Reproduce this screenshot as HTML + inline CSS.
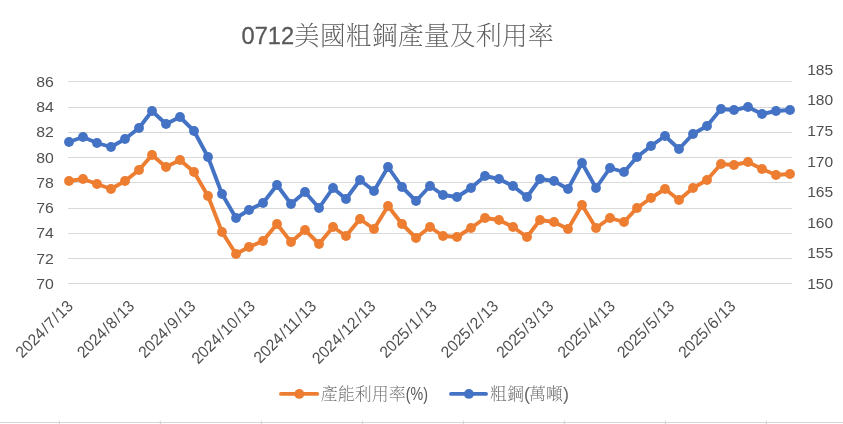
<!DOCTYPE html>
<html lang="zh-Hant">
<head>
<meta charset="utf-8">
<title>0712美國粗鋼產量及利用率</title>
<style>
html,body{margin:0;padding:0;background:#fff;}
body{width:843px;height:424px;overflow:hidden;}
svg{display:block;}
</style>
</head>
<body>
<svg width="843" height="424" viewBox="0 0 843 424">
<rect x="0" y="0" width="843" height="424" fill="#fff"/>
<g stroke="#D6D6D6" stroke-width="1.2">
<line x1="0" y1="422.5" x2="843" y2="422.5"/>
<line x1="59.4" y1="420.8" x2="59.4" y2="424"/>
<line x1="160.4" y1="420.8" x2="160.4" y2="424"/>
<line x1="261.4" y1="420.8" x2="261.4" y2="424"/>
<line x1="362.4" y1="420.8" x2="362.4" y2="424"/>
<line x1="463.4" y1="420.8" x2="463.4" y2="424"/>
<line x1="564.4" y1="420.8" x2="564.4" y2="424"/>
<line x1="665.4" y1="420.8" x2="665.4" y2="424"/>
<line x1="766.4" y1="420.8" x2="766.4" y2="424"/>
</g>
<g stroke="#D9D9D9" stroke-width="1">
<line x1="68" y1="283.50" x2="792" y2="283.50"/>
<line x1="68" y1="258.50" x2="792" y2="258.50"/>
<line x1="68" y1="233.50" x2="792" y2="233.50"/>
<line x1="68" y1="208.50" x2="792" y2="208.50"/>
<line x1="68" y1="182.50" x2="792" y2="182.50"/>
<line x1="68" y1="157.50" x2="792" y2="157.50"/>
<line x1="68" y1="132.50" x2="792" y2="132.50"/>
<line x1="68" y1="107.50" x2="792" y2="107.50"/>
<line x1="68" y1="81.50" x2="792" y2="81.50"/>
</g>
<g font-family="'Liberation Sans', sans-serif" font-size="15.5" fill="#505050">
<text x="36.2" y="288.85" font-size="15.4" textLength="17.6" lengthAdjust="spacingAndGlyphs">70</text>
<text x="36.2" y="263.61" font-size="15.4" textLength="17.6" lengthAdjust="spacingAndGlyphs">72</text>
<text x="36.2" y="238.37" font-size="15.4" textLength="17.6" lengthAdjust="spacingAndGlyphs">74</text>
<text x="36.2" y="213.13" font-size="15.4" textLength="17.6" lengthAdjust="spacingAndGlyphs">76</text>
<text x="36.2" y="187.89" font-size="15.4" textLength="17.6" lengthAdjust="spacingAndGlyphs">78</text>
<text x="36.2" y="162.65" font-size="15.4" textLength="17.6" lengthAdjust="spacingAndGlyphs">80</text>
<text x="36.2" y="137.41" font-size="15.4" textLength="17.6" lengthAdjust="spacingAndGlyphs">82</text>
<text x="36.2" y="112.17" font-size="15.4" textLength="17.6" lengthAdjust="spacingAndGlyphs">84</text>
<text x="36.2" y="86.93" font-size="15.4" textLength="17.6" lengthAdjust="spacingAndGlyphs">86</text>
<text x="807.2" y="288.90" font-size="15.4" textLength="26.0" lengthAdjust="spacingAndGlyphs">150</text>
<text x="807.2" y="258.33" font-size="15.4" textLength="26.0" lengthAdjust="spacingAndGlyphs">155</text>
<text x="807.2" y="227.76" font-size="15.4" textLength="26.0" lengthAdjust="spacingAndGlyphs">160</text>
<text x="807.2" y="197.19" font-size="15.4" textLength="26.0" lengthAdjust="spacingAndGlyphs">165</text>
<text x="807.2" y="166.62" font-size="15.4" textLength="26.0" lengthAdjust="spacingAndGlyphs">170</text>
<text x="807.2" y="136.05" font-size="15.4" textLength="26.0" lengthAdjust="spacingAndGlyphs">175</text>
<text x="807.2" y="105.48" font-size="15.4" textLength="26.0" lengthAdjust="spacingAndGlyphs">180</text>
<text x="807.2" y="74.91" font-size="15.4" textLength="26.0" lengthAdjust="spacingAndGlyphs">185</text>
<text transform="translate(74.00,307.1) rotate(-45) scale(0.95,1)" font-size="16.3" text-anchor="end" dx="0 0 0 0 1.1 1.1 1.1 1.1 0">2024/7/13</text>
<text transform="translate(135.32,307.1) rotate(-45) scale(0.95,1)" font-size="16.3" text-anchor="end" dx="0 0 0 0 1.1 1.1 1.1 1.1 0">2024/8/13</text>
<text transform="translate(196.64,307.1) rotate(-45) scale(0.95,1)" font-size="16.3" text-anchor="end" dx="0 0 0 0 1.1 1.1 1.1 1.1 0">2024/9/13</text>
<text transform="translate(255.98,307.1) rotate(-45) scale(0.95,1)" font-size="16.3" text-anchor="end" dx="0 0 0 0 1.1 1.1 0 1.1 1.1 0">2024/10/13</text>
<text transform="translate(317.29,307.1) rotate(-45) scale(0.95,1)" font-size="16.3" text-anchor="end" dx="0 0 0 0 1.1 1.1 0 1.1 1.1 0">2024/11/13</text>
<text transform="translate(376.63,307.1) rotate(-45) scale(0.95,1)" font-size="16.3" text-anchor="end" dx="0 0 0 0 1.1 1.1 0 1.1 1.1 0">2024/12/13</text>
<text transform="translate(437.95,307.1) rotate(-45) scale(0.95,1)" font-size="16.3" text-anchor="end" dx="0 0 0 0 1.1 1.1 1.1 1.1 0">2025/1/13</text>
<text transform="translate(499.27,307.1) rotate(-45) scale(0.95,1)" font-size="16.3" text-anchor="end" dx="0 0 0 0 1.1 1.1 1.1 1.1 0">2025/2/13</text>
<text transform="translate(554.65,307.1) rotate(-45) scale(0.95,1)" font-size="16.3" text-anchor="end" dx="0 0 0 0 1.1 1.1 1.1 1.1 0">2025/3/13</text>
<text transform="translate(615.97,307.1) rotate(-45) scale(0.95,1)" font-size="16.3" text-anchor="end" dx="0 0 0 0 1.1 1.1 1.1 1.1 0">2025/4/13</text>
<text transform="translate(675.31,307.1) rotate(-45) scale(0.95,1)" font-size="16.3" text-anchor="end" dx="0 0 0 0 1.1 1.1 1.1 1.1 0">2025/5/13</text>
<text transform="translate(736.63,307.1) rotate(-45) scale(0.95,1)" font-size="16.3" text-anchor="end" dx="0 0 0 0 1.1 1.1 1.1 1.1 0">2025/6/13</text>
</g>
<polyline points="69.00,142.00 83.00,137.00 97.00,143.00 111.00,147.00 125.00,139.00 139.00,128.00 152.00,111.00 166.00,124.00 180.00,117.00 194.00,131.00 208.00,157.00 222.00,194.00 236.00,218.00 249.00,210.00 263.00,203.00 277.00,185.00 291.00,204.00 305.00,192.00 319.00,208.00 333.00,188.00 346.00,199.00 360.00,180.00 374.00,191.00 388.00,167.00 402.00,187.00 416.00,201.00 430.00,186.00 443.00,195.00 457.00,197.00 471.00,188.00 485.00,176.00 499.00,179.00 513.00,186.00 527.00,197.00 540.00,179.00 554.00,181.00 568.00,189.00 582.00,163.00 596.00,188.00 610.00,168.00 624.00,172.00 637.00,157.00 651.00,146.00 665.00,136.00 679.00,149.00 693.00,134.00 707.00,126.00 721.00,109.00 734.00,110.00 748.00,107.00 762.00,114.00 776.00,111.00 790.00,110.00" fill="none" stroke="#4472C4" stroke-width="3.9" stroke-linejoin="round" stroke-linecap="round"/>
<g fill="#4472C4">
<circle cx="69.00" cy="142.00" r="4.95"/>
<circle cx="83.00" cy="137.00" r="4.95"/>
<circle cx="97.00" cy="143.00" r="4.95"/>
<circle cx="111.00" cy="147.00" r="4.95"/>
<circle cx="125.00" cy="139.00" r="4.95"/>
<circle cx="139.00" cy="128.00" r="4.95"/>
<circle cx="152.00" cy="111.00" r="4.95"/>
<circle cx="166.00" cy="124.00" r="4.95"/>
<circle cx="180.00" cy="117.00" r="4.95"/>
<circle cx="194.00" cy="131.00" r="4.95"/>
<circle cx="208.00" cy="157.00" r="4.95"/>
<circle cx="222.00" cy="194.00" r="4.95"/>
<circle cx="236.00" cy="218.00" r="4.95"/>
<circle cx="249.00" cy="210.00" r="4.95"/>
<circle cx="263.00" cy="203.00" r="4.95"/>
<circle cx="277.00" cy="185.00" r="4.95"/>
<circle cx="291.00" cy="204.00" r="4.95"/>
<circle cx="305.00" cy="192.00" r="4.95"/>
<circle cx="319.00" cy="208.00" r="4.95"/>
<circle cx="333.00" cy="188.00" r="4.95"/>
<circle cx="346.00" cy="199.00" r="4.95"/>
<circle cx="360.00" cy="180.00" r="4.95"/>
<circle cx="374.00" cy="191.00" r="4.95"/>
<circle cx="388.00" cy="167.00" r="4.95"/>
<circle cx="402.00" cy="187.00" r="4.95"/>
<circle cx="416.00" cy="201.00" r="4.95"/>
<circle cx="430.00" cy="186.00" r="4.95"/>
<circle cx="443.00" cy="195.00" r="4.95"/>
<circle cx="457.00" cy="197.00" r="4.95"/>
<circle cx="471.00" cy="188.00" r="4.95"/>
<circle cx="485.00" cy="176.00" r="4.95"/>
<circle cx="499.00" cy="179.00" r="4.95"/>
<circle cx="513.00" cy="186.00" r="4.95"/>
<circle cx="527.00" cy="197.00" r="4.95"/>
<circle cx="540.00" cy="179.00" r="4.95"/>
<circle cx="554.00" cy="181.00" r="4.95"/>
<circle cx="568.00" cy="189.00" r="4.95"/>
<circle cx="582.00" cy="163.00" r="4.95"/>
<circle cx="596.00" cy="188.00" r="4.95"/>
<circle cx="610.00" cy="168.00" r="4.95"/>
<circle cx="624.00" cy="172.00" r="4.95"/>
<circle cx="637.00" cy="157.00" r="4.95"/>
<circle cx="651.00" cy="146.00" r="4.95"/>
<circle cx="665.00" cy="136.00" r="4.95"/>
<circle cx="679.00" cy="149.00" r="4.95"/>
<circle cx="693.00" cy="134.00" r="4.95"/>
<circle cx="707.00" cy="126.00" r="4.95"/>
<circle cx="721.00" cy="109.00" r="4.95"/>
<circle cx="734.00" cy="110.00" r="4.95"/>
<circle cx="748.00" cy="107.00" r="4.95"/>
<circle cx="762.00" cy="114.00" r="4.95"/>
<circle cx="776.00" cy="111.00" r="4.95"/>
<circle cx="790.00" cy="110.00" r="4.95"/>
</g>
<polyline points="69.00,181.00 83.00,179.00 97.00,184.00 111.00,189.00 125.00,181.00 139.00,170.00 152.00,155.00 166.00,167.00 180.00,160.00 194.00,172.00 208.00,196.00 222.00,232.00 236.00,254.00 249.00,247.00 263.00,241.00 277.00,224.00 291.00,242.00 305.00,230.00 319.00,244.00 333.00,227.00 346.00,236.00 360.00,219.00 374.00,229.00 388.00,206.00 402.00,224.00 416.00,238.00 430.00,227.00 443.00,236.00 457.00,237.00 471.00,228.00 485.00,218.00 499.00,220.00 513.00,227.00 527.00,237.00 540.00,220.00 554.00,222.00 568.00,229.00 582.00,205.00 596.00,228.00 610.00,218.00 624.00,222.00 637.00,208.00 651.00,198.00 665.00,189.00 679.00,200.00 693.00,188.00 707.00,180.00 721.00,164.00 734.00,165.00 748.00,162.00 762.00,169.00 776.00,175.00 790.00,174.00" fill="none" stroke="#ED7D31" stroke-width="3.9" stroke-linejoin="round" stroke-linecap="round"/>
<g fill="#ED7D31">
<circle cx="69.00" cy="181.00" r="4.95"/>
<circle cx="83.00" cy="179.00" r="4.95"/>
<circle cx="97.00" cy="184.00" r="4.95"/>
<circle cx="111.00" cy="189.00" r="4.95"/>
<circle cx="125.00" cy="181.00" r="4.95"/>
<circle cx="139.00" cy="170.00" r="4.95"/>
<circle cx="152.00" cy="155.00" r="4.95"/>
<circle cx="166.00" cy="167.00" r="4.95"/>
<circle cx="180.00" cy="160.00" r="4.95"/>
<circle cx="194.00" cy="172.00" r="4.95"/>
<circle cx="208.00" cy="196.00" r="4.95"/>
<circle cx="222.00" cy="232.00" r="4.95"/>
<circle cx="236.00" cy="254.00" r="4.95"/>
<circle cx="249.00" cy="247.00" r="4.95"/>
<circle cx="263.00" cy="241.00" r="4.95"/>
<circle cx="277.00" cy="224.00" r="4.95"/>
<circle cx="291.00" cy="242.00" r="4.95"/>
<circle cx="305.00" cy="230.00" r="4.95"/>
<circle cx="319.00" cy="244.00" r="4.95"/>
<circle cx="333.00" cy="227.00" r="4.95"/>
<circle cx="346.00" cy="236.00" r="4.95"/>
<circle cx="360.00" cy="219.00" r="4.95"/>
<circle cx="374.00" cy="229.00" r="4.95"/>
<circle cx="388.00" cy="206.00" r="4.95"/>
<circle cx="402.00" cy="224.00" r="4.95"/>
<circle cx="416.00" cy="238.00" r="4.95"/>
<circle cx="430.00" cy="227.00" r="4.95"/>
<circle cx="443.00" cy="236.00" r="4.95"/>
<circle cx="457.00" cy="237.00" r="4.95"/>
<circle cx="471.00" cy="228.00" r="4.95"/>
<circle cx="485.00" cy="218.00" r="4.95"/>
<circle cx="499.00" cy="220.00" r="4.95"/>
<circle cx="513.00" cy="227.00" r="4.95"/>
<circle cx="527.00" cy="237.00" r="4.95"/>
<circle cx="540.00" cy="220.00" r="4.95"/>
<circle cx="554.00" cy="222.00" r="4.95"/>
<circle cx="568.00" cy="229.00" r="4.95"/>
<circle cx="582.00" cy="205.00" r="4.95"/>
<circle cx="596.00" cy="228.00" r="4.95"/>
<circle cx="610.00" cy="218.00" r="4.95"/>
<circle cx="624.00" cy="222.00" r="4.95"/>
<circle cx="637.00" cy="208.00" r="4.95"/>
<circle cx="651.00" cy="198.00" r="4.95"/>
<circle cx="665.00" cy="189.00" r="4.95"/>
<circle cx="679.00" cy="200.00" r="4.95"/>
<circle cx="693.00" cy="188.00" r="4.95"/>
<circle cx="707.00" cy="180.00" r="4.95"/>
<circle cx="721.00" cy="164.00" r="4.95"/>
<circle cx="734.00" cy="165.00" r="4.95"/>
<circle cx="748.00" cy="162.00" r="4.95"/>
<circle cx="762.00" cy="169.00" r="4.95"/>
<circle cx="776.00" cy="175.00" r="4.95"/>
<circle cx="790.00" cy="174.00" r="4.95"/>
</g>
<text x="241.5" y="43.7" font-family="'Liberation Sans', sans-serif" font-size="23.5" fill="#595959" stroke="#595959" stroke-width="0.3" textLength="52.6" lengthAdjust="spacingAndGlyphs">0712</text>
<text x="293.7" y="45.1" font-family="'Liberation Sans', 'Noto Serif CJK TC', 'Noto Serif CJK SC', serif" font-weight="200" font-size="26" fill="#5e5e5e">美國粗鋼產量及利用率</text>
<line x1="281" y1="393.9" x2="317.2" y2="393.9" stroke="#ED7D31" stroke-width="3.9" stroke-linecap="round"/>
<circle cx="299.3" cy="393.9" r="4.95" fill="#ED7D31"/>
<text x="320.8" y="400.4" font-family="'Liberation Sans', 'Noto Serif CJK TC', 'Noto Serif CJK SC', serif" font-weight="200" font-size="17" fill="#6a6a6a">產能利用率</text>
<text x="405.8" y="399.6" font-family="'Liberation Sans', sans-serif" font-size="17.5" fill="#595959" textLength="22.2" lengthAdjust="spacingAndGlyphs">(%)</text>
<line x1="451" y1="393.9" x2="486" y2="393.9" stroke="#4472C4" stroke-width="3.9" stroke-linecap="round"/>
<circle cx="468.9" cy="393.9" r="4.95" fill="#4472C4"/>
<text y="400.4" font-family="'Liberation Sans', 'Noto Serif CJK TC', 'Noto Serif CJK SC', serif" font-weight="200" font-size="17" fill="#6a6a6a"><tspan x="490.0">粗鋼</tspan><tspan x="524.0" dy="-0.8" font-size="18" fill="#6b6b6b">(</tspan><tspan x="529.0" dy="0.8" font-size="17">萬噸</tspan><tspan x="563.0" dy="-0.8" font-size="18" fill="#6b6b6b">)</tspan></text>
</svg>
</body>
</html>
